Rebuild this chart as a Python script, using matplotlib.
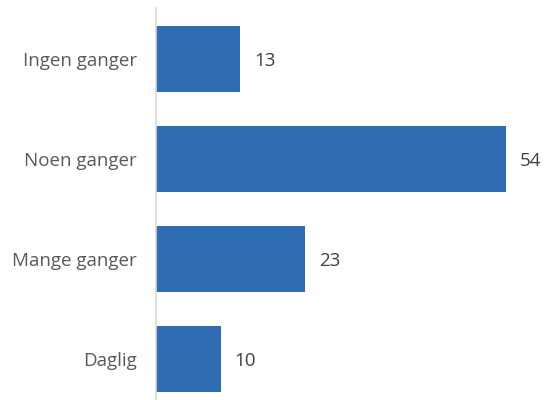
import matplotlib
matplotlib.use('Agg')
import matplotlib.pyplot as plt

categories = ['Ingen ganger', 'Noen ganger', 'Mange ganger', 'Daglig']
values = [13, 54, 23, 10]

bar_color = '#2E6DB4'
text_color = '#595959'
value_color = '#404040'

plt.rcParams['font.family'] = ['Open Sans', 'DejaVu Sans']

fig = plt.figure(figsize=(5.45, 4.0), dpi=100)
ax = fig.add_axes([156 / 545, 0.0, 1 - 156 / 545, 1 - 8 / 400])

pos = list(range(len(categories)))
bars = ax.barh(pos, values, height=0.66, color=bar_color)

ax.set_xlim(0, 60)
ax.set_ylim(3.41, -0.51)
ax.set_yticks(pos)
ax.set_yticklabels(categories, fontsize=13.5, color=text_color)
ax.tick_params(axis='y', length=0, pad=13.5)
ax.set_xticks([])

for s in ['top', 'right', 'bottom']:
    ax.spines[s].set_visible(False)
ax.spines['left'].set_color('#D9D9D9')
ax.spines['left'].set_linewidth(1.2)

# value labels to the right of each bar
for b, v in zip(bars, values):
    ax.annotate(str(v), (b.get_width(), b.get_y() + b.get_height() / 2),
                xytext=(10, -1.5), textcoords='offset points',
                va='center', ha='left', fontsize=13.5, color=value_color)

fig.savefig('out.png', dpi=100)
